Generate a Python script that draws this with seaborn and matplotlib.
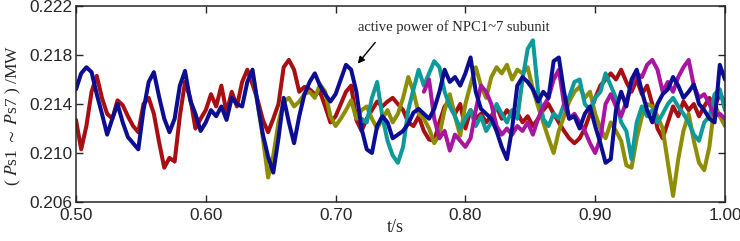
import numpy as np
import pandas as pd
import seaborn as sns
import matplotlib.pyplot as plt

# sampled active power of the subunits (MW), one sample every 4 ms
step = 0.004
red_start, blue_start, olive_start, cyan_start, magenta_start = 0.500, 0.500, 0.636, 0.720, 0.768

red = [0.2127, 0.2103, 0.2122, 0.2150, 0.2163, 0.2145, 0.2132, 0.2128, 0.2143, 0.2139,
       0.2130, 0.2122, 0.2117, 0.2140, 0.2145, 0.2132, 0.2109, 0.2088, 0.2096, 0.2093,
       0.2130, 0.2158, 0.2145, 0.2120, 0.2128, 0.2135, 0.2148, 0.2138, 0.2155, 0.2133,
       0.2150, 0.2138, 0.2158, 0.2168, 0.2156, 0.2143, 0.2127, 0.2117, 0.2128, 0.2140,
       0.2170, 0.2176, 0.2168, 0.2150, 0.2154, 0.2152, 0.2148, 0.2150, 0.2138, 0.2125,
       0.2130, 0.2140, 0.2150, 0.2155, 0.2127, 0.2118, 0.2128, 0.2135, 0.2142, 0.2138,
       0.2142, 0.2145, 0.2140, 0.2135, 0.2125, 0.2122, 0.2130, 0.2118, 0.2111, 0.2110,
       0.2125, 0.2138, 0.2143, 0.2132, 0.2140, 0.2120, 0.2135, 0.2128, 0.2132, 0.2125,
       0.2130, 0.2138, 0.2128, 0.2135, 0.2130, 0.2133, 0.2125, 0.2130, 0.2122, 0.2128,
       0.2135, 0.2140, 0.2132, 0.2125, 0.2118, 0.2112, 0.2108, 0.2112, 0.2120, 0.2132,
       0.2145, 0.2155, 0.2160, 0.2165, 0.2160, 0.2168, 0.2158, 0.2150, 0.2160, 0.2148,
       0.2155, 0.2140, 0.2120, 0.2112, 0.2125, 0.2138, 0.2130, 0.2142, 0.2135, 0.2140,
       0.2130, 0.2138, 0.2145, 0.2138, 0.2148, 0.2142]

blue = [0.2152, 0.2165, 0.2170, 0.2166, 0.2148, 0.2132, 0.2115, 0.2128, 0.2140, 0.2125,
        0.2113, 0.2108, 0.2103, 0.2135, 0.2158, 0.2166, 0.2146, 0.2128, 0.2117, 0.2128,
        0.2155, 0.2167, 0.2143, 0.2132, 0.2118, 0.2125, 0.2135, 0.2130, 0.2138, 0.2127,
        0.2145, 0.2140, 0.2138, 0.2158, 0.2168, 0.2140, 0.2115, 0.2097, 0.2084, 0.2112,
        0.2145, 0.2125, 0.2108, 0.2130, 0.2148, 0.2158, 0.2165, 0.2155, 0.2148, 0.2142,
        0.2148, 0.2160, 0.2172, 0.2168, 0.2150, 0.2120, 0.2103, 0.2100, 0.2122, 0.2130,
        0.2125, 0.2112, 0.2115, 0.2118, 0.2124, 0.2133, 0.2136, 0.2132, 0.2128, 0.2136,
        0.2150, 0.2168, 0.2158, 0.2162, 0.2155, 0.2165, 0.2178, 0.2150, 0.2136, 0.2132,
        0.2128, 0.2118, 0.2105, 0.2095, 0.2120, 0.2155, 0.2162, 0.2158, 0.2152, 0.2142,
        0.2150, 0.2145, 0.2175, 0.2178, 0.2150, 0.2128, 0.2130, 0.2120, 0.2132, 0.2138,
        0.2122, 0.2108, 0.2092, 0.2095, 0.2135, 0.2150, 0.2138, 0.2160, 0.2168, 0.2150,
        0.2135, 0.2125, 0.2140, 0.2148, 0.2152, 0.2162, 0.2155, 0.2145, 0.2150, 0.2156,
        0.2140, 0.2135, 0.2128, 0.2125, 0.2172, 0.2160]

olive = [0.2165, 0.2140, 0.2112, 0.2080, 0.2098, 0.2125, 0.2142, 0.2145, 0.2138, 0.2142,
         0.2148, 0.2150, 0.2145, 0.2156, 0.2150, 0.2130, 0.2122, 0.2128, 0.2135, 0.2143,
         0.2128, 0.2135, 0.2138, 0.2128, 0.2120, 0.2128, 0.2135, 0.2125, 0.2132, 0.2145,
         0.2162, 0.2150, 0.2132, 0.2128, 0.2120, 0.2108, 0.2115, 0.2135, 0.2148, 0.2130,
         0.2114, 0.2140, 0.2156, 0.2170, 0.2155, 0.2145, 0.2162, 0.2170, 0.2165, 0.2172,
         0.2160, 0.2168, 0.2165, 0.2170, 0.2152, 0.2138, 0.2125, 0.2112, 0.2100, 0.2118,
         0.2130, 0.2142, 0.2150, 0.2154, 0.2145, 0.2150, 0.2132, 0.2120, 0.2112, 0.2125,
         0.2118, 0.2110, 0.2090, 0.2088, 0.2112, 0.2130, 0.2140, 0.2138, 0.2130, 0.2120,
         0.2092, 0.2065, 0.2095, 0.2118, 0.2132, 0.2110, 0.2092, 0.2086, 0.2105, 0.2140,
         0.2130, 0.2122]

cyan = [0.2128, 0.2125, 0.2145, 0.2158, 0.2130, 0.2110, 0.2098, 0.2092, 0.2105, 0.2135,
        0.2152, 0.2168, 0.2155, 0.2165, 0.2175, 0.2170, 0.2150, 0.2138, 0.2130, 0.2120,
        0.2128, 0.2135, 0.2122, 0.2130, 0.2118, 0.2125, 0.2140, 0.2132, 0.2125, 0.2135,
        0.2128, 0.2160, 0.2185, 0.2192, 0.2150, 0.2128, 0.2122, 0.2132, 0.2128, 0.2140,
        0.2146, 0.2158, 0.2160, 0.2140, 0.2135, 0.2145, 0.2150, 0.2165, 0.2155, 0.2145,
        0.2125, 0.2118, 0.2095, 0.2125, 0.2138, 0.2130, 0.2135, 0.2125, 0.2132, 0.2140,
        0.2145, 0.2138, 0.2132, 0.2125, 0.2115, 0.2110, 0.2125, 0.2130, 0.2148, 0.2152,
        0.2135]

magenta = [0.2150, 0.2160, 0.2128, 0.2112, 0.2118, 0.2102, 0.2115, 0.2110, 0.2105, 0.2112,
           0.2135, 0.2155, 0.2150, 0.2140, 0.2122, 0.2115, 0.2120, 0.2115, 0.2122, 0.2118,
           0.2125, 0.2115, 0.2128, 0.2138, 0.2145, 0.2160, 0.2168, 0.2140, 0.2128, 0.2132,
           0.2125, 0.2118, 0.2108, 0.2100, 0.2112, 0.2140, 0.2148, 0.2138, 0.2130, 0.2142,
           0.2155, 0.2165, 0.2162, 0.2172, 0.2176, 0.2168, 0.2150, 0.2158, 0.2150, 0.2162,
           0.2170, 0.2176, 0.2155, 0.2145, 0.2148, 0.2140, 0.2130, 0.2132, 0.2128]

units = ['red', 'olive', 'cyan', 'magenta', 'blue']
colors = ['#A80F12', '#8E8E06', '#0E9A9A', '#A8159F', '#0C0E92']

frames = []
for name, start, vals in [('red', red_start, red), ('olive', olive_start, olive),
                          ('cyan', cyan_start, cyan), ('magenta', magenta_start, magenta),
                          ('blue', blue_start, blue)]:
    t = np.round(start + step * np.arange(len(vals)), 3)
    frames.append(pd.DataFrame({'t': t, 'P': vals, 'unit': name}))
df = pd.concat(frames, ignore_index=True)

sns.set_style('ticks')
plt.rcParams['font.family'] = ['Liberation Sans', 'DejaVu Sans']
plt.rcParams['mathtext.fontset'] = 'stix'

fig = plt.figure(figsize=(7.4, 2.41), dpi=100)
ax = fig.add_axes([0.1027, 0.1618, 0.877, 0.8133])
sns.lineplot(data=df, x='t', y='P', hue='unit', hue_order=units, palette=colors,
             estimator=None, linewidth=2.9, legend=False, ax=ax)

ax.set_xlim(0.5, 1.0)
ax.set_ylim(0.206, 0.222)
ax.set_xticks([0.5, 0.6, 0.7, 0.8, 0.9, 1.0])
ax.set_xticklabels(['0.50', '0.60', '0.70', '0.80', '0.90', '1.00'])
ax.set_yticks([0.206, 0.210, 0.214, 0.218, 0.222])
ax.set_yticklabels(['0.206', '0.210', '0.214', '0.218', '0.222'])
ax.tick_params(direction='in', top=True, right=True, length=5, width=1,
               labelsize=12.4, pad=4)
ax.tick_params(axis='y', pad=2.5)
for s in ax.spines.values():
    s.set_linewidth(1.1)

ax.set_xlabel('t/s', fontfamily='Liberation Serif', fontsize=13, va='center')
ax.xaxis.set_label_coords(0.4915, -0.13)
ax.set_ylabel(r'( $P$s1 $\sim$ $P$s7 ) /MW', fontfamily='Liberation Serif',
              fontsize=12.5, va='center')
ax.yaxis.set_label_coords(-0.097, 0.44)

ax.text(0.4345, 0.89, 'active power of NPC1~7 subunit', transform=ax.transAxes,
        fontfamily='Liberation Serif', fontsize=10.5, ha='left', va='center')
ax.annotate('', xy=(0.4314, 0.695), xytext=(0.4638, 0.825),
            xycoords='axes fraction', textcoords='axes fraction',
            arrowprops=dict(arrowstyle='-|>', color='black', lw=1, mutation_scale=10))

fig.savefig('out.png', dpi=100)
